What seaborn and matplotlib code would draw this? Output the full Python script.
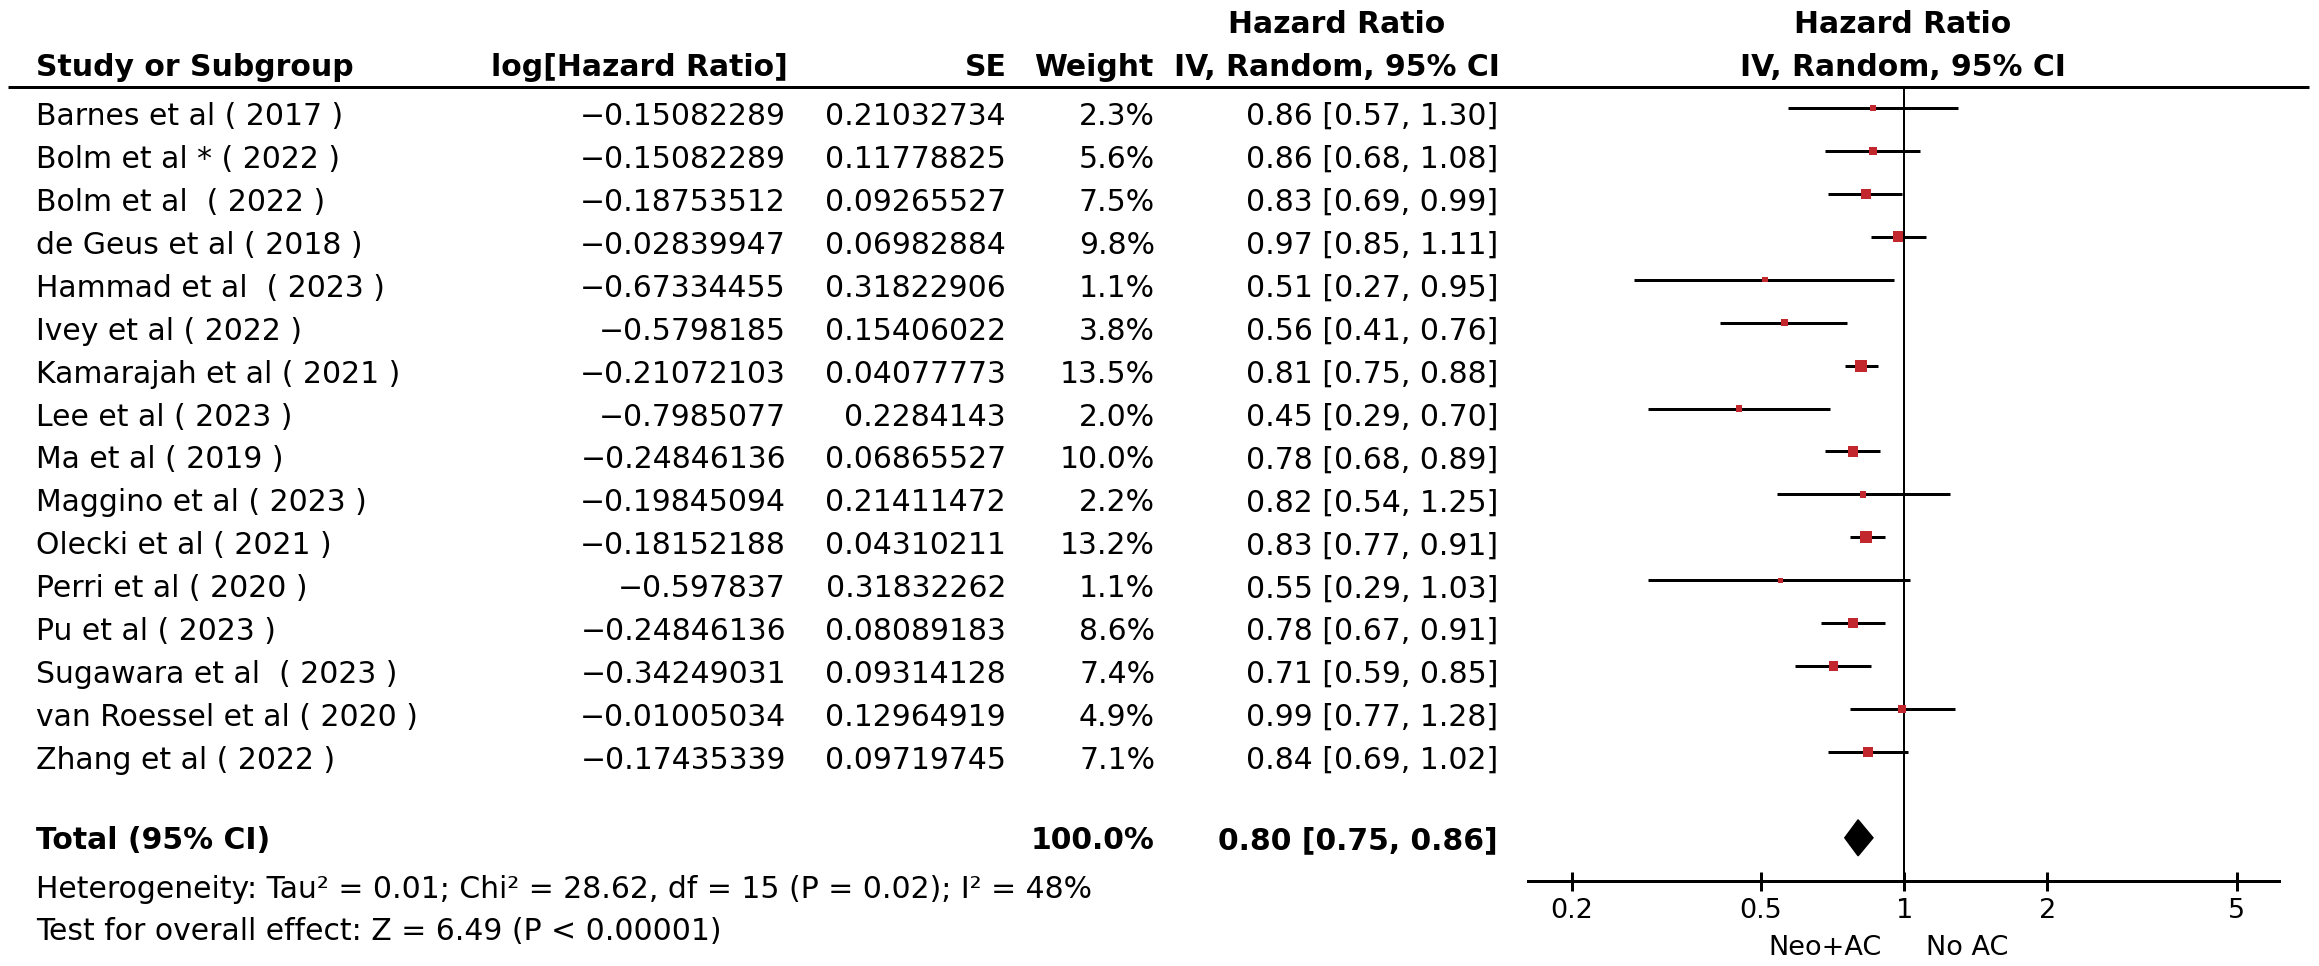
import numpy as np
import pandas as pd
import matplotlib
matplotlib.use("Agg")
import matplotlib.pyplot as plt
import seaborn as sns

# -----------------------------
# data
# -----------------------------
studies = [
    "Barnes et al ( 2017 )", "Bolm et al * ( 2022 )", "Bolm et al  ( 2022 )",
    "de Geus et al ( 2018 )", "Hammad et al  ( 2023 )", "Ivey et al ( 2022 )",
    "Kamarajah et al ( 2021 )", "Lee et al ( 2023 )", "Ma et al ( 2019 )",
    "Maggino et al ( 2023 )", "Olecki et al ( 2021 )", "Perri et al ( 2020 )",
    "Pu et al ( 2023 )", "Sugawara et al  ( 2023 )", "van Roessel et al ( 2020 )",
    "Zhang et al ( 2022 )",
]
log_hr = [-0.15082289, -0.15082289, -0.18753512, -0.02839947, -0.67334455,
          -0.5798185, -0.21072103, -0.7985077, -0.24846136, -0.19845094,
          -0.18152188, -0.597837, -0.24846136, -0.34249031, -0.01005034,
          -0.17435339]
se = [0.21032734, 0.11778825, 0.09265527, 0.06982884, 0.31822906, 0.15406022,
      0.04077773, 0.2284143, 0.06865527, 0.21411472, 0.04310211, 0.31832262,
      0.08089183, 0.09314128, 0.12964919, 0.09719745]
weight = [2.3, 5.6, 7.5, 9.8, 1.1, 3.8, 13.5, 2.0, 10.0, 2.2, 13.2, 1.1, 8.6, 7.4, 4.9, 7.1]
hr = [0.86, 0.86, 0.83, 0.97, 0.51, 0.56, 0.81, 0.45, 0.78, 0.82, 0.83, 0.55, 0.78, 0.71, 0.99, 0.84]
ci_lo = [0.57, 0.68, 0.69, 0.85, 0.27, 0.41, 0.75, 0.29, 0.68, 0.54, 0.77, 0.29, 0.67, 0.59, 0.77, 0.69]
ci_hi = [1.30, 1.08, 0.99, 1.11, 0.95, 0.76, 0.88, 0.70, 0.89, 1.25, 0.91, 1.03, 0.91, 0.85, 1.28, 1.02]

total_weight = 100.0
total_hr, total_lo, total_hi = 0.80, 0.75, 0.86

x_ticks = [0.2, 0.5, 1, 2, 5]
x_tick_labels = ["0.2", "0.5", "1", "2", "5"]

heterogeneity = "Heterogeneity: Tau² = 0.01; Chi² = 28.62, df = 15 (P = 0.02); I² = 48%"
overall = "Test for overall effect: Z = 6.49 (P < 0.00001)"
favours_left, favours_right = "Neo+AC", "No AC"

df = pd.DataFrame({"study": studies, "log_hr": log_hr, "se": se, "weight": weight,
                   "hr": hr, "lo": ci_lo, "hi": ci_hi})
df["row"] = np.arange(len(df))
total_row = len(df) + 1

# -----------------------------
# figure setup
# -----------------------------
sns.set_theme(style="white")
plt.rcParams["font.family"] = ["DejaVu Sans"]
plt.rcParams["text.color"] = "black"
plt.rcParams["xtick.color"] = "black"

W, H = 2319, 966
fig = plt.figure(figsize=(W / 100, H / 100), dpi=100)


def pt(p):
    # pixels -> points at 100 dpi
    return p * 72 / 100


FS = 21.5
row0, step = 108, 42.93

# background axes in pixel units for the table part
bg = fig.add_axes([0, 0, 1, 1])
bg.set_xlim(0, W)
bg.set_ylim(H, 0)
bg.axis("off")

# column headers
bold = dict(fontsize=FS, fontweight="bold", va="baseline", color="black")
bg.text(36, 76, "Study or Subgroup", ha="left", **bold)
bg.text(788, 76, "log[Hazard Ratio]", ha="right", **bold)
bg.text(1007, 76, "SE", ha="right", **bold)
bg.text(1153, 76, "Weight", ha="right", **bold)
bg.text(1337, 33, "Hazard Ratio", ha="center", **bold)
bg.text(1337, 76, "IV, Random, 95% CI", ha="center", **bold)
bg.text(1903, 33, "Hazard Ratio", ha="center", **bold)
bg.text(1903, 76, "IV, Random, 95% CI", ha="center", **bold)
bg.plot([8, 2309], [87, 87], color="black", lw=pt(3), solid_capstyle="butt")

# study rows
norm = dict(fontsize=FS, va="baseline", color="black")
for r in df.itertuples():
    yb = row0 + step * r.row + 17
    bg.text(36, yb, r.study, ha="left", **norm)
    bg.text(786, yb, str(r.log_hr).replace("-", "\u2212"), ha="right", **norm)
    bg.text(1006, yb, str(r.se), ha="right", **norm)
    bg.text(1155, yb, f"{r.weight:.1f}%", ha="right", **norm)
    bg.text(1498, yb, f"{r.hr:.2f} [{r.lo:.2f}, {r.hi:.2f}]", ha="right", **norm)

# total + footnotes
bg.text(36, 849, "Total (95% CI)", ha="left", **bold)
bg.text(1155, 849, f"{total_weight:.1f}%", ha="right", **bold)
bg.text(1498, 849, f"{total_hr:.2f} [{total_lo:.2f}, {total_hi:.2f}]", ha="right", **bold)
bg.text(36, 898, heterogeneity, ha="left", **norm)
bg.text(36, 940, overall, ha="left", **norm)

# -----------------------------
# forest panel
# -----------------------------
ax = fig.add_axes([1528 / W, 1 - 881 / H, (2279 - 1528) / W, (881 - 87) / H])
ax.set_facecolor("none")
ax.set_xscale("log")
ax.set_xlim(0.162, 6.13)
ax.set_ylim((881 - row0) / step, -(row0 - 87) / step)

ax.axvline(1, color="black", lw=pt(2), zorder=1)
ax.hlines(df["row"], df["lo"], df["hi"], color="black", lw=pt(3), zorder=2)

side = pt(2.6 + 2.56 * np.sqrt(df["weight"]))
sns.scatterplot(data=df, x="hr", y="row", marker="s", s=side ** 2, color="#C1272D",
                edgecolor="none", linewidth=0, ax=ax, legend=False, zorder=3)

dh = 18 / step
ax.fill([total_lo, total_hr, total_hi, total_hr],
        [total_row, total_row - dh, total_row, total_row + dh], color="black", zorder=3)

for s in ["top", "left", "right"]:
    ax.spines[s].set_visible(False)
ax.spines["bottom"].set_linewidth(pt(3))
ax.spines["bottom"].set_color("black")
ax.set_yticks([])
ax.set_xticks(x_ticks)
ax.set_xticklabels(x_tick_labels)
ax.xaxis.set_minor_locator(matplotlib.ticker.NullLocator())
ax.tick_params(axis="x", direction="inout", length=pt(19), width=pt(3),
               pad=pt(8), labelsize=19.5, colors="black", bottom=True)
ax.set_xlabel("")
ax.set_ylabel("")

bg.text(1825, 955, favours_left, ha="center", va="baseline", fontsize=19.5, color="black")
bg.text(1967, 955, favours_right, ha="center", va="baseline", fontsize=19.5, color="black")

fig.savefig("out.png", dpi=100, facecolor="white")
